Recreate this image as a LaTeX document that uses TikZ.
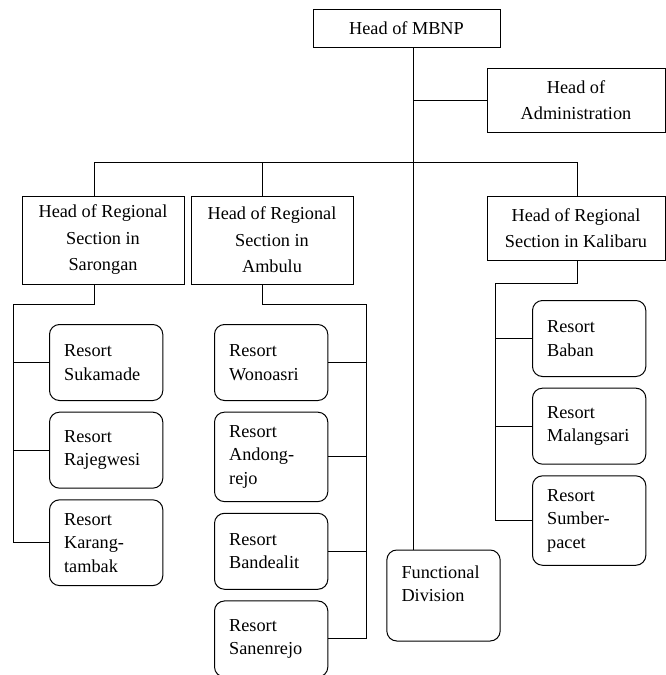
\documentclass[tikz,border=0pt]{standalone}
\usepackage{fontspec}
\setmainfont{Liberation Serif}
\usetikzlibrary{positioning}
\begin{document}
\begin{tikzpicture}[x=0.75pt, y=-0.75pt, line width=0.75pt, node distance=8pt,
  head/.style = {draw, align=center, inner sep=0pt, font=\fontsize{13.7}{19.9}\selectfont},
  resort/.style = {draw, rounded corners=7.5pt, text width=63pt, inner xsep=11pt, inner ysep=10pt,
    minimum height=57pt, align=left, font=\fontsize{13.7}{17.6}\selectfont}]
\useasboundingbox (0,0) rectangle (665,675);
% heads
\node[head, minimum width=140.25pt, minimum height=28.5pt] (mbnp) at (406.5,28) {Head of MBNP};
\node[head, minimum width=133.5pt, minimum height=48pt] (admin) at (576,100) {Head of\\Administration};
\node[head, minimum width=121.5pt, minimum height=66pt] (saro) at (103,240) {Head of Regional\\Section in\\Sarongan};
\node[head, minimum width=121.5pt, minimum height=66pt] (amb) [right=4.5pt of saro] {Head of Regional\\Section in\\Ambulu};
\node[head, minimum width=133.5pt, minimum height=48pt] (kali) at (576,228) {Head of Regional\\Section in Kalibaru};
% resorts
\node[resort, anchor=north west] (rs1) at (49,324) {Resort\\Sukamade};
\node[resort] (rs2) [below=of rs1] {Resort\\Rajegwesi};
\node[resort] (rs3) [below=of rs2] {Resort\\Karang-\\tambak};
\node[resort, anchor=north west] (ra1) at (214,324) {Resort\\Wonoasri};
\node[resort] (ra2) [below=of ra1] {Resort\\Andong-\\rejo};
\node[resort] (ra3) [below=of ra2] {Resort\\Bandealit};
\node[resort] (ra4) [below=of ra3] {Resort\\Sanenrejo};
\node[resort, anchor=north west] (rk1) at (532,300) {Resort\\Baban};
\node[resort] (rk2) [below=of rk1] {Resort\\Malangsari};
\node[resort] (rk3) [below=of rk2] {Resort\\Sumber-\\pacet};
\node[resort, minimum height=68.25pt] (fd) at (443.5,595.5) {Functional\\Division\\\mbox{}};
% lines
\coordinate (trunk) at (413,0);
\coordinate (busS) at (94,162);
\coordinate (busA) at (262,162);
\coordinate (busK) at (577,162);
\coordinate (spS) at (13,304);
\coordinate (spA) at (366,304);
\coordinate (spK) at (495,283);
\draw (mbnp.south -| trunk) -- (fd.north -| trunk);
\draw (admin.west -| trunk) -- (admin.west);
\draw (busS) -- (busK);
\draw (busS) -- (busS |- saro.north);
\draw (busA) -- (busA |- amb.north);
\draw (busK) -- (busK |- kali.north);
\draw (saro.south -| busS) |- (spS) |- (rs3.west);
\draw (amb.south -| busA) |- (spA) |- (ra4.east);
\draw (kali.south -| busK) |- (spK) |- (rk3.west);
\foreach \r in {rs1,rs2} \draw (spS |- \r.west) -- (\r.west);
\foreach \r in {ra1,ra2,ra3} \draw (spA |- \r.east) -- (\r.east);
\foreach \r in {rk1,rk2} \draw (spK |- \r.west) -- (\r.west);
\end{tikzpicture}
\end{document}
